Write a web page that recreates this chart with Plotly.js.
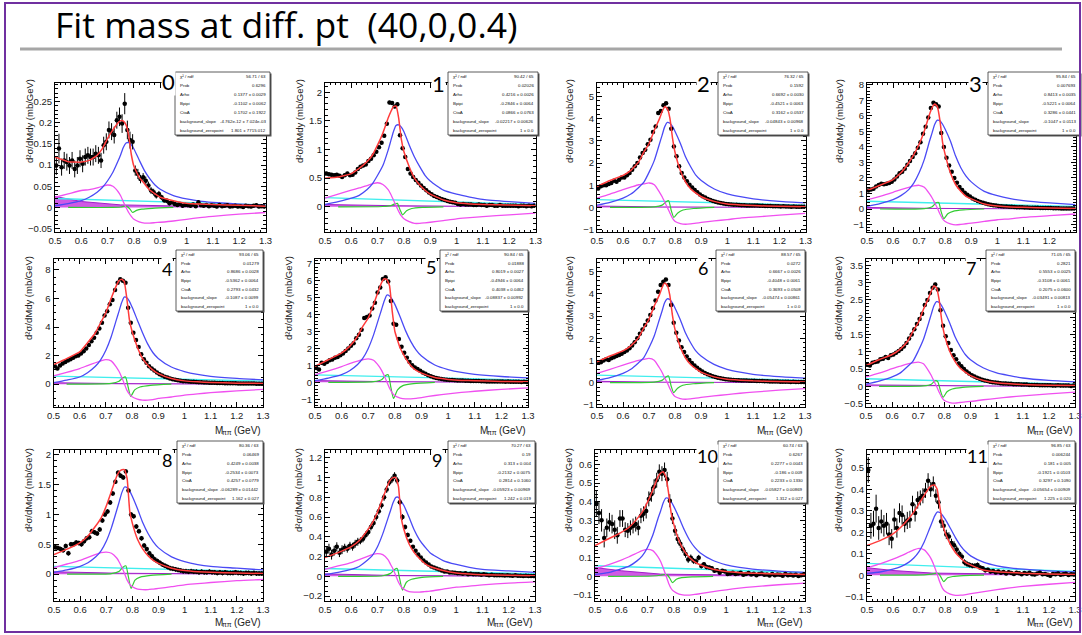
<!DOCTYPE html>
<html><head><meta charset="utf-8">
<script src="https://cdn.plot.ly/plotly-3.0.1.min.js"></script>
<style>html,body{margin:0;padding:0;background:#fff;}#chart{width:1082px;height:635px;}</style>
</head><body><div id="chart"></div>
<script>
const SLIDE_TITLE = 'Fit mass at diff. pt\u00a0\u00a0(40,0,0.4)';
const Y_TITLE = 'd²σ/dMdy (mb/GeV)';
const X_TITLE_PARTS = ['M','ππ','(GeV)'];
const PANEL_LABELS = ['0','1','2','3','4','5','6','7','8','9','10','11'];
const STAT_LABELS = ['χ² / ndf','Prob','Arho','Bpipi','CtoA','background_slope','background_zeropoint'];
const STATS_0 = ['56.71 / 63','0.6296','0.1377 ± 0.0029','-0.1102 ± 0.0062','0.1702 ± 0.1922','-4.762e-12 ± 7.024e-03','1.801 ± 7715.012'];
const STATS_1 = ['90.42 / 65','0.02026','0.4216 ± 0.0026','-0.2846 ± 0.0064','0.0866 ± 0.0763','-0.02217 ± 0.00626','1 ± 0.0'];
const STATS_2 = ['76.32 / 65','0.1592','0.6692 ± 0.0030','-0.4521 ± 0.0063','0.3162 ± 0.0537','-0.04843 ± 0.00968','1 ± 0.0'];
const STATS_3 = ['95.84 / 65','0.007693','0.8413 ± 0.0035','-0.5221 ± 0.0064','0.3286 ± 0.0441','-0.1047 ± 0.0113','1 ± 0.0'];
const STATS_4 = ['93.06 / 65','0.01279','0.8686 ± 0.0028','-0.5362 ± 0.0064','0.2793 ± 0.0432','-0.1087 ± 0.0099','1 ± 0.0'];
const STATS_5 = ['90.84 / 65','0.01888','0.8019 ± 0.0027','-0.4946 ± 0.0064','0.4038 ± 0.0462','-0.08837 ± 0.00992','1 ± 0.0'];
const STATS_6 = ['88.57 / 65','0.0272','0.6667 ± 0.0026','-0.4048 ± 0.0061','0.3693 ± 0.0508','-0.05474 ± 0.00861','1 ± 0.0'];
const STATS_7 = ['71.05 / 65','0.2821','0.5553 ± 0.0025','-0.3108 ± 0.0061','0.2075 ± 0.0600','-0.03491 ± 0.00813','1 ± 0.0'];
const STATS_8 = ['80.36 / 63','0.06469','0.4249 ± 0.0038','-0.2534 ± 0.0073','0.4257 ± 0.0779','-0.06289 ± 0.01442','1.162 ± 0.027'];
const STATS_9 = ['70.27 / 63','0.19','0.313 ± 0.004','-0.2132 ± 0.0075','0.2814 ± 0.1060','-0.05923 ± 0.00969','1.242 ± 0.019'];
const STATS_10 = ['60.74 / 63','0.6267','0.2277 ± 0.0043','-0.186 ± 0.009','0.2233 ± 0.1330','-0.05827 ± 0.00869','1.312 ± 0.027'];
const STATS_11 = ['96.85 / 63','0.006244','0.181 ± 0.005','-0.1921 ± 0.0103','0.3297 ± 0.1090','-0.05654 ± 0.00909','1.225 ± 0.020'];

const MASS_BINS = [0.505,0.515,0.525,0.535,0.545,0.555,0.565,0.575,0.585,0.595,
 0.605,0.615,0.625,0.635,0.645,0.655,0.665,0.675,0.685,0.695,
 0.705,0.715,0.725,0.735,0.745,0.755,0.765,0.775,0.785,0.795,
 0.805,0.815,0.825,0.835,0.845,0.855,0.865,0.875,0.885,0.895,
 0.905,0.915,0.925,0.935,0.945,0.955,0.965,0.975,0.985,0.995,
 1.005,1.015,1.025,1.035,1.045,1.055,1.065,1.075,1.085,1.095,
 1.105,1.115,1.125,1.135,1.145,1.155,1.165,1.175,1.185,1.195,
 1.205,1.215,1.225,1.235,1.245,1.255,1.265,1.275,1.285,1.295];
const CURVE_X = [0.50,0.55,0.60,0.63,0.66,0.68,0.70,0.72,0.74,0.75,0.76,0.77,0.78,0.79,0.80,0.82,0.84,0.86,0.88,0.90,0.95,1.00,1.05,1.10,1.20,1.30];
const GREEN_X = [0.55,0.72,0.75,0.765,0.775,0.785,0.795,0.81,0.83,0.87,0.95];
const BKG_X = [0.5,0.6,0.75,1.0,1.3];
const LINE_X = [0.5,1.3];

// ---------- panel 0 ----------
const DATA_0 = [0.099,0.139,0.095,0.111,0.107,0.099,0.111,0.091,0.099,0.115,
 0.103,0.119,0.123,0.119,0.119,0.127,0.123,0.111,0.147,0.155,
 0.183,0.179,0.171,0.206,0.214,0.198,0.245,0.183,0.159,0.155,
 0.087,0.079,0.067,0.071,0.063,0.052,0.040,0.036,0.028,0.032,
 0.024,0.017,0.016,0.010,0.012,0.008,0.006,0.008,0.004,0.006,
 0.005,0.004,0.007,0.003,0.012,0.005,0.004,0.006,0.003,0.005,
 0.004,0.002,0.006,0.003,0.004,0.005,0.002,0.003,0.004,0.002,
 0.003,0.001,0.004,0.003,0.002,0.004,0.005,0.002,0.003,0.002];
const ERR_0 = [0.022,0.035,0.02,0.02,0.02,0.02,0.02,0.02,0.02,0.02,
 0.02,0.02,0.02,0.02,0.02,0.02,0.02,0.018,0.02,0.02,
 0.02,0.02,0.02,0.02,0.022,0.022,0.025,0.022,0.02,0.018,
 0.012,0.012,0.01,0.01,0.01,0.009,0.008,0.008,0.007,0.007,
 0.006,0.006,0.006,0.005,0.005,0.005,0.005,0.005,0.004,0.004,
 0.004,0.004,0.004,0.004,0.005,0.004,0.004,0.004,0.004,0.004,
 0.004,0.004,0.004,0.004,0.004,0.004,0.004,0.004,0.004,0.004,
 0.004,0.004,0.004,0.004,0.004,0.004,0.004,0.004,0.004,0.004];
const RED_0 = [0.119,0.108,0.107,0.111,0.123,0.139,0.163,0.183,0.2,0.205,0.204,0.195,0.17,0.125,0.097,0.071,0.056,0.041,0.032,0.024,0.016,0.01,0.008,0.007,0.005,0.003];
const BLUE_0 = [0.004,0.009,0.016,0.024,0.036,0.047,0.063,0.083,0.11,0.125,0.142,0.152,0.153,0.148,0.138,0.112,0.087,0.068,0.053,0.043,0.028,0.02,0.015,0.012,0.008,0.006];
const MAG_0 = [0.024,0.032,0.04,0.042,0.046,0.05,0.053,0.05,0.037,0.027,0.013,0.0,-0.012,-0.021,-0.028,-0.034,-0.037,-0.037,-0.036,-0.035,-0.032,-0.028,-0.024,-0.021,-0.016,-0.012];
const CYAN_0 = [0.021,0.006];
const GREEN_0 = [0,0,0.001,0.003,0.002,-0.004,-0.012,-0.007,-0.004,-0.002,0];
const PURP_0 = [0.026,0.014,0.006,0.003,0.002];

// ---------- panel 1 ----------
const DATA_1 = [0.58,0.57,0.56,0.55,0.56,0.54,0.52,0.55,0.58,0.55,
 0.56,0.60,0.66,0.70,0.72,0.74,0.80,0.84,0.90,0.96,
 1.04,1.12,1.24,1.45,1.82,1.81,1.75,1.79,1.25,1.02,
 0.87,0.66,0.58,0.52,0.47,0.42,0.37,0.33,0.29,0.25,
 0.22,0.19,0.17,0.15,0.13,0.12,0.10,0.09,0.08,0.07,
 0.05,0.04,0.05,0.04,0.04,0.04,0.03,0.03,0.04,0.03,
 0.03,0.02,0.03,0.03,0.02,0.02,0.03,0.02,0.02,0.02,
 0.02,0.02,0.02,0.01,0.02,0.02,0.01,0.02,0.01,0.02];
const RED_1 = [0.5,0.52,0.58,0.67,0.79,0.9,1.08,1.29,1.55,1.66,1.75,1.76,1.55,1.18,0.96,0.7,0.5,0.38,0.29,0.22,0.12,0.07,0.05,0.04,0.03,0.02];
const BLUE_1 = [0.04,0.09,0.15,0.2,0.3,0.4,0.55,0.72,0.99,1.15,1.31,1.42,1.43,1.39,1.31,1.08,0.87,0.7,0.55,0.45,0.29,0.22,0.17,0.13,0.09,0.06];
const MAG_1 = [0.15,0.22,0.29,0.33,0.37,0.4,0.42,0.39,0.3,0.22,0.12,0.02,-0.08,-0.16,-0.21,-0.26,-0.29,-0.29,-0.28,-0.27,-0.24,-0.21,-0.19,-0.17,-0.14,-0.11];
const CYAN_1 = [0.16,0.04];
const GREEN_1 = [0,0.005,0.02,0.05,0.06,-0.05,-0.14,-0.07,-0.03,-0.01,0];
const PURP_1 = [0.04,0.03,0.02,0.01,0.005];

// ---------- panel 2 ----------
const DATA_2 = [0.85,0.95,1.0,1.0,1.05,1.1,1.2,1.15,1.25,1.35,
 1.35,1.45,1.55,1.7,1.85,2.0,2.25,2.45,2.6,2.85,
 3.05,3.4,3.65,4.25,4.35,4.6,4.7,4.45,3.55,2.75,
 2.3,1.85,1.55,1.35,1.18,1.02,0.9,0.78,0.68,0.58,
 0.5,0.44,0.38,0.33,0.29,0.25,0.22,0.2,0.17,0.15,
 0.14,0.13,0.12,0.12,0.11,0.1,0.1,0.09,0.09,0.08,
 0.08,0.08,0.07,0.07,0.06,0.06,0.06,0.05,0.05,0.05,
 0.04,0.05,0.04,0.04,0.03,0.04,0.03,0.03,0.03,0.03];
const RED_2 = [0.94,1.21,1.44,1.67,2.05,2.5,2.88,3.48,4.0,4.32,4.55,4.45,4.0,3.1,2.45,1.65,1.14,0.83,0.64,0.48,0.27,0.15,0.11,0.08,0.05,0.03];
const BLUE_2 = [0.1,0.23,0.42,0.6,0.9,1.14,1.59,2.12,2.88,3.26,3.64,3.83,3.79,3.64,3.41,2.88,2.27,1.82,1.44,1.21,0.83,0.61,0.48,0.38,0.27,0.2];
const MAG_2 = [0.42,0.6,0.8,0.91,1.02,1.06,1.1,1.02,0.68,0.48,0.23,0,-0.26,-0.5,-0.64,-0.73,-0.76,-0.74,-0.71,-0.68,-0.61,-0.55,-0.48,-0.44,-0.35,-0.27];
const CYAN_2 = [0.35,0.1];
const GREEN_2 = [0,0.02,0.1,0.25,0.3,-0.15,-0.45,-0.25,-0.12,-0.05,0];
const PURP_2 = [0.06,0.04,0.02,0.01,0.005];

// ---------- panel 3 ----------
const DATA_3 = [1.2,1.25,1.3,1.45,1.55,1.62,1.6,1.62,1.68,1.75,
 1.9,2.1,2.3,2.4,2.6,2.85,3.1,3.35,3.6,3.95,
 4.3,4.85,5.3,5.9,6.5,6.85,6.75,6.6,4.9,4.0,
 3.3,2.8,2.4,2.0,1.7,1.42,1.22,1.05,0.92,0.8,
 0.68,0.6,0.52,0.46,0.4,0.35,0.31,0.28,0.24,0.22,
 0.2,0.18,0.17,0.16,0.15,0.14,0.13,0.12,0.12,0.11,
 0.1,0.1,0.09,0.09,0.08,0.08,0.07,0.07,0.07,0.06,
 0.06,0.05,0.05,0.05,0.04,0.04,0.04,0.04,0.03,0.03];
const RED_3 = [1.19,1.53,1.9,2.33,2.98,3.52,4.17,5.03,6.11,6.54,6.76,6.6,5.7,4.3,3.5,2.33,1.58,1.14,0.82,0.65,0.32,0.19,0.13,0.11,0.06,0.04];
const BLUE_3 = [0.17,0.35,0.6,0.86,1.25,1.68,2.33,3.2,4.38,4.92,5.46,5.72,5.68,5.46,5.14,4.38,3.41,2.66,2.12,1.75,1.14,0.86,0.67,0.54,0.39,0.28];
const MAG_3 = [0.6,0.82,1.08,1.25,1.4,1.49,1.53,1.4,0.97,0.71,0.39,0.06,-0.32,-0.63,-0.8,-0.95,-1.02,-0.99,-0.95,-0.91,-0.8,-0.69,-0.63,-0.54,-0.43,-0.32];
const CYAN_3 = [0.5,0.17];
const GREEN_3 = [0,0.03,0.15,0.4,0.42,-0.2,-0.62,-0.3,-0.15,-0.06,0];
const PURP_3 = [0.1,0.07,0.04,0.02,0.01];

// ---------- panel 4 ----------
const DATA_4 = [1.25,1.1,1.3,1.45,1.55,1.65,1.75,1.85,1.95,2.0,
 2.15,2.3,2.5,2.75,3.0,3.25,3.6,3.9,4.3,4.8,
 5.1,5.6,5.9,6.6,7.1,7.35,7.25,7.1,5.35,4.3,
 3.6,3.1,2.6,2.1,1.75,1.5,1.25,1.1,0.95,0.82,
 0.7,0.6,0.52,0.46,0.4,0.35,0.3,0.27,0.24,0.21,
 0.2,0.18,0.17,0.16,0.15,0.13,0.13,0.12,0.11,0.1,
 0.1,0.09,0.08,0.08,0.08,0.07,0.07,0.06,0.06,0.06,
 0.05,0.05,0.05,0.05,0.04,0.04,0.04,0.03,0.03,0.03];
const RED_4 = [1.37,1.79,2.26,2.9,3.6,4.3,5.0,6.0,6.9,7.25,7.35,7.2,6.0,4.5,3.7,2.6,1.8,1.33,0.98,0.74,0.4,0.23,0.16,0.12,0.07,0.05];
const BLUE_4 = [0.1,0.28,0.5,0.8,1.25,1.7,2.37,3.3,4.5,5.1,5.7,6.1,6.05,5.8,5.4,4.5,3.6,2.8,2.2,1.8,1.2,0.88,0.68,0.55,0.4,0.3];
const MAG_4 = [0.58,0.82,1.09,1.3,1.5,1.62,1.72,1.63,1.2,0.9,0.5,0.05,-0.42,-0.7,-0.88,-1.05,-1.12,-1.12,-1.08,-1.0,-0.9,-0.77,-0.68,-0.6,-0.47,-0.37];
const CYAN_4 = [0.56,0.21];
const GREEN_4 = [0,0.05,0.2,0.45,0.5,-0.2,-0.85,-0.4,-0.2,-0.08,0];
const PURP_4 = [0.1,0.07,0.04,0.02,0.01];

// ---------- panel 5 ----------
const DATA_5 = [0.85,0.75,1.15,1.1,1.2,1.3,1.35,1.45,1.5,1.6,
 1.7,1.85,2.0,2.15,2.3,2.6,2.8,3.1,3.8,3.85,
 3.95,4.35,4.7,5.3,5.6,6.1,6.2,5.95,4.8,3.45,
 3.4,2.55,2.1,1.75,1.45,1.2,1.0,0.88,0.78,0.68,
 0.58,0.5,0.42,0.36,0.3,0.26,0.22,0.2,0.17,0.15,
 0.14,0.13,0.12,0.11,0.1,0.1,0.09,0.09,0.08,0.07,
 0.07,0.07,0.06,0.06,0.05,0.05,0.05,0.05,0.04,0.04,
 0.04,0.03,0.04,0.03,0.03,0.03,0.03,0.02,0.03,0.02];
const RED_5 = [0.94,1.33,1.73,2.12,2.72,3.31,3.8,4.6,5.48,5.88,6.11,6.07,5.7,4.2,3.0,2.02,1.43,0.98,0.7,0.54,0.28,0.17,0.11,0.09,0.05,0.03];
const BLUE_5 = [0.1,0.25,0.45,0.68,1.05,1.42,2.0,2.8,3.8,4.3,4.8,5.15,5.1,4.9,4.6,3.85,3.05,2.4,1.9,1.55,1.02,0.75,0.58,0.47,0.34,0.26];
const MAG_5 = [0.45,0.68,0.93,1.1,1.25,1.33,1.38,1.3,0.95,0.7,0.38,0.02,-0.35,-0.62,-0.8,-0.93,-0.98,-0.98,-0.95,-0.9,-0.78,-0.68,-0.6,-0.53,-0.42,-0.33];
const CYAN_5 = [0.44,0.13];
const GREEN_5 = [0,0.04,0.15,0.4,0.45,-0.3,-0.95,-0.45,-0.2,-0.08,0];
const PURP_5 = [0.1,0.07,0.04,0.02,0.01];

// ---------- panel 6 ----------
const DATA_6 = [0.9,0.92,1.0,1.05,1.02,1.1,1.15,1.2,1.25,1.3,
 1.38,1.45,1.55,1.68,1.82,2.0,2.2,2.4,2.6,2.8,
 3.05,3.35,3.7,4.1,4.4,4.55,4.65,4.4,3.5,2.7,
 2.25,1.9,1.6,1.38,1.18,1.02,0.88,0.77,0.67,0.58,
 0.5,0.43,0.38,0.33,0.29,0.25,0.22,0.2,0.17,0.15,
 0.14,0.13,0.12,0.11,0.11,0.1,0.1,0.09,0.08,0.08,
 0.08,0.07,0.07,0.07,0.06,0.06,0.05,0.05,0.05,0.05,
 0.04,0.04,0.04,0.04,0.03,0.04,0.03,0.03,0.03,0.03];
const RED_6 = [0.94,1.2,1.43,1.66,2.03,2.47,2.86,3.45,3.96,4.28,4.5,4.4,3.95,3.05,2.4,1.62,1.12,0.82,0.63,0.47,0.26,0.15,0.11,0.08,0.05,0.03];
const BLUE_6 = [0.1,0.23,0.42,0.6,0.9,1.13,1.57,2.1,2.85,3.22,3.6,3.78,3.75,3.6,3.37,2.85,2.25,1.8,1.43,1.2,0.82,0.6,0.47,0.37,0.27,0.2];
const MAG_6 = [0.42,0.6,0.79,0.9,1.0,1.05,1.09,1.01,0.67,0.47,0.22,0,-0.26,-0.49,-0.63,-0.72,-0.75,-0.73,-0.7,-0.67,-0.6,-0.54,-0.48,-0.43,-0.34,-0.27];
const CYAN_6 = [0.34,0.1];
const GREEN_6 = [0,0.02,0.1,0.25,0.3,-0.15,-0.45,-0.25,-0.12,-0.05,0];
const PURP_6 = [0.06,0.04,0.02,0.01,0.005];

// ---------- panel 7 ----------
const DATA_7 = [0.62,0.6,0.68,0.7,0.72,0.78,0.8,0.85,0.82,0.9,
 0.92,0.97,1.02,1.08,1.15,1.25,1.38,1.5,1.65,1.8,
 1.95,2.1,2.35,2.5,2.7,2.85,2.95,2.8,2.2,1.75,
 1.45,1.25,1.05,0.9,0.78,0.66,0.58,0.5,0.43,0.37,
 0.32,0.28,0.25,0.22,0.19,0.17,0.15,0.13,0.12,0.11,
 0.1,0.09,0.08,0.08,0.07,0.07,0.06,0.06,0.06,0.05,
 0.05,0.05,0.04,0.04,0.04,0.04,0.03,0.03,0.03,0.03,
 0.03,0.02,0.02,0.03,0.02,0.02,0.02,0.02,0.01,0.02];
const RED_7 = [0.6,0.77,0.92,1.07,1.31,1.6,1.84,2.23,2.56,2.76,2.91,2.85,2.5,1.9,1.5,1.02,0.73,0.53,0.41,0.31,0.17,0.1,0.07,0.05,0.03,0.02];
const BLUE_7 = [0.06,0.15,0.27,0.38,0.58,0.73,1.02,1.36,1.84,2.09,2.33,2.45,2.43,2.33,2.18,1.84,1.45,1.16,0.92,0.77,0.53,0.39,0.31,0.24,0.17,0.13];
const MAG_7 = [0.27,0.38,0.51,0.58,0.65,0.68,0.7,0.65,0.44,0.31,0.15,0,-0.17,-0.32,-0.41,-0.47,-0.49,-0.47,-0.45,-0.44,-0.39,-0.35,-0.31,-0.28,-0.22,-0.17];
const CYAN_7 = [0.22,0.06];
const GREEN_7 = [0,0.01,0.06,0.16,0.13,-0.13,-0.32,-0.16,-0.08,-0.03,0];
const PURP_7 = [0.04,0.03,0.015,0.008,0.004];

// ---------- panel 8 ----------
const DATA_8 = [0.45,0.44,0.42,0.4,0.47,0.35,0.5,0.5,0.53,0.52,
 0.5,0.55,0.6,0.62,0.72,0.7,0.68,0.75,0.9,1.0,
 1.05,1.2,1.35,1.55,1.7,1.65,1.62,1.72,1.4,1.0,
 0.97,0.8,0.72,0.6,0.48,0.42,0.35,0.3,0.25,0.22,
 0.19,0.16,0.14,0.12,0.1,0.09,0.08,0.07,0.06,0.05,
 0.05,0.04,0.05,0.04,0.04,0.03,0.04,0.03,0.03,0.04,
 0.03,0.03,0.02,0.03,0.02,0.03,0.02,0.02,0.02,0.03,
 0.02,0.02,0.01,0.02,0.02,0.01,0.02,0.01,0.01,0.01];
const RED_8 = [0.33,0.42,0.53,0.64,0.81,0.94,1.14,1.39,1.64,1.72,1.75,1.75,1.6,1.05,0.85,0.58,0.42,0.31,0.23,0.18,0.1,0.06,0.04,0.03,0.02,0.01];
const BLUE_8 = [0.03,0.07,0.13,0.19,0.29,0.39,0.55,0.78,1.07,1.22,1.37,1.46,1.45,1.39,1.3,1.09,0.86,0.68,0.54,0.44,0.29,0.21,0.16,0.13,0.1,0.07];
const MAG_8 = [0.11,0.17,0.23,0.28,0.33,0.36,0.37,0.35,0.27,0.2,0.11,0.01,-0.1,-0.17,-0.21,-0.25,-0.26,-0.26,-0.25,-0.24,-0.21,-0.18,-0.16,-0.14,-0.11,-0.09];
const CYAN_8 = [0.13,0.04];
const GREEN_8 = [0,0.01,0.05,0.12,0.14,-0.05,-0.24,-0.1,-0.05,-0.02,0];
const PURP_8 = [0.04,0.03,0.015,0.008,0.004];

// ---------- panel 9 ----------
const DATA_9 = [0.25,0.28,0.22,0.26,0.3,0.24,0.27,0.29,0.28,0.31,
 0.3,0.33,0.35,0.36,0.38,0.42,0.45,0.5,0.54,0.6,
 0.66,0.72,0.8,0.88,0.95,0.98,1.02,0.97,0.75,0.6,
 0.5,0.42,0.36,0.3,0.26,0.22,0.19,0.16,0.14,0.12,
 0.1,0.09,0.08,0.07,0.06,0.05,0.05,0.04,0.04,0.035,
 0.03,0.03,0.025,0.03,0.02,0.025,0.02,0.02,0.02,0.015,
 0.02,0.015,0.01,0.015,0.01,0.01,0.012,0.01,0.008,0.01,
 0.008,0.006,0.01,0.005,0.006,0.004,0.006,0.004,0.003,0.004];
const ERR_9 = [0.05,0.05,0.05,0.05,0.045,0.045,0.045,0.04,0.04,0.04,
 0.04,0.04,0.04,0.035,0.035,0.035,0.035,0.035,0.035,0.035,
 0.035,0.035,0.035,0.035,0.035,0.035,0.035,0.035,0.03,0.03,
 0.025,0.022,0.02,0.018,0.016,0.015,0.014,0.013,0.012,0.011,
 0.01,0.01,0.01,0.009,0.009,0.008,0.008,0.008,0.007,0.007,
 0.006,0.006,0.006,0.006,0.006,0.006,0.006,0.006,0.006,0.006,
 0.006,0.006,0.006,0.006,0.006,0.006,0.006,0.006,0.006,0.006,
 0.006,0.006,0.006,0.006,0.006,0.006,0.006,0.006,0.006,0.006];
const RED_9 = [0.19,0.24,0.3,0.36,0.46,0.54,0.65,0.79,0.93,0.98,1.0,1.0,0.91,0.6,0.48,0.33,0.24,0.18,0.13,0.1,0.06,0.034,0.023,0.017,0.011,0.006];
const BLUE_9 = [0.017,0.04,0.07,0.1,0.16,0.21,0.3,0.43,0.59,0.67,0.75,0.8,0.8,0.76,0.72,0.6,0.47,0.37,0.3,0.24,0.16,0.12,0.09,0.07,0.055,0.04];
const MAG_9 = [0.07,0.105,0.14,0.17,0.2,0.22,0.23,0.22,0.17,0.12,0.07,0.006,-0.06,-0.105,-0.13,-0.155,-0.16,-0.16,-0.155,-0.15,-0.13,-0.11,-0.1,-0.087,-0.068,-0.056];
const CYAN_9 = [0.08,0.025];
const GREEN_9 = [0,0.006,0.03,0.07,0.08,-0.03,-0.14,-0.06,-0.03,-0.01,0];
const PURP_9 = [0.025,0.017,0.009,0.005,0.002];

// ---------- panel 10 ----------
const DATA_10 = [0.39,0.34,0.30,0.205,0.26,0.29,0.28,0.25,0.22,0.31,
 0.31,0.25,0.245,0.26,0.27,0.28,0.26,0.325,0.335,0.35,
 0.415,0.44,0.48,0.515,0.56,0.55,0.57,0.52,0.405,0.31,
 0.245,0.20,0.175,0.145,0.12,0.09,0.10,0.083,0.08,0.10,
 0.055,0.065,0.05,0.047,0.044,0.03,0.033,0.02,0.03,0.026,
 0.012,0.015,0.02,0.012,0.015,0.02,0.008,0.012,0.018,0.01,
 0.014,0.006,0.012,0.016,0.008,0.01,0.004,0.012,0.006,0.01,
 0.008,0.003,0.012,0.006,0.009,0.004,0.008,0.002,0.006,0.01];
const ERR_10 = [0.07,0.06,0.06,0.05,0.05,0.05,0.05,0.05,0.045,0.045,
 0.045,0.04,0.04,0.04,0.04,0.04,0.04,0.04,0.04,0.04,
 0.04,0.04,0.04,0.04,0.04,0.04,0.04,0.04,0.035,0.03,
 0.028,0.025,0.022,0.02,0.02,0.018,0.017,0.016,0.015,0.015,
 0.013,0.012,0.012,0.011,0.011,0.01,0.01,0.01,0.009,0.009,
 0.008,0.008,0.008,0.008,0.008,0.008,0.007,0.007,0.007,0.007,
 0.007,0.007,0.007,0.007,0.007,0.007,0.006,0.006,0.006,0.006,
 0.006,0.006,0.006,0.006,0.006,0.006,0.006,0.006,0.006,0.006];
const RED_10 = [0.165,0.2,0.236,0.263,0.308,0.344,0.398,0.461,0.533,0.553,0.56,0.535,0.45,0.34,0.28,0.191,0.137,0.101,0.078,0.062,0.038,0.026,0.02,0.017,0.012,0.01];
const BLUE_10 = [0.01,0.02,0.04,0.055,0.083,0.11,0.155,0.22,0.31,0.35,0.395,0.42,0.418,0.4,0.375,0.315,0.25,0.195,0.155,0.127,0.085,0.062,0.048,0.039,0.028,0.021];
const MAG_10 = [0.04,0.062,0.087,0.105,0.125,0.138,0.145,0.138,0.105,0.08,0.045,0.005,-0.035,-0.065,-0.08,-0.095,-0.1,-0.1,-0.097,-0.093,-0.082,-0.072,-0.063,-0.056,-0.045,-0.036];
const CYAN_10 = [0.057,0.02];
const GREEN_10 = [0,0.002,0.006,0.01,0.008,-0.01,-0.034,-0.015,-0.007,-0.003,0];
const PURP_10 = [0.047,0.03,0.012,0.006,0.002];

// ---------- panel 11 ----------
const DATA_11 = [0.49,0.23,0.24,0.31,0.22,0.25,0.23,0.24,0.19,0.17,
 0.26,0.22,0.29,0.28,0.24,0.255,0.26,0.33,0.29,0.35,
 0.36,0.37,0.395,0.44,0.40,0.425,0.37,0.34,0.25,0.23,
 0.19,0.18,0.15,0.14,0.12,0.10,0.086,0.06,0.052,0.048,
 0.044,0.044,0.048,0.036,0.033,0.023,0.026,0.017,0.02,0.013,
 0.017,0.012,0.015,0.008,0.014,0.01,0.006,0.012,0.009,0.004,
 0.01,0.007,0.011,0.005,0.003,0.008,0.012,0.004,0.006,0.002,
 -0.003,0.006,0.004,0.008,0.002,0.005,0.007,0.001,0.004,0.003];
const ERR_11 = [0.06,0.06,0.06,0.065,0.055,0.055,0.05,0.05,0.05,0.045,
 0.05,0.045,0.045,0.045,0.04,0.04,0.04,0.04,0.04,0.04,
 0.035,0.035,0.035,0.035,0.035,0.035,0.03,0.03,0.03,0.025,
 0.022,0.02,0.02,0.018,0.017,0.015,0.015,0.014,0.013,0.012,
 0.012,0.011,0.011,0.01,0.01,0.01,0.009,0.009,0.009,0.008,
 0.008,0.008,0.008,0.008,0.008,0.008,0.008,0.008,0.008,0.008,
 0.008,0.008,0.008,0.008,0.008,0.008,0.008,0.008,0.008,0.008,
 0.008,0.008,0.008,0.008,0.008,0.008,0.008,0.008,0.008,0.008];
const RED_11 = [0.138,0.161,0.192,0.223,0.263,0.294,0.333,0.372,0.408,0.418,0.42,0.4,0.32,0.245,0.2,0.145,0.106,0.08,0.059,0.047,0.023,0.016,0.013,0.009,0.006,0.003];
const BLUE_11 = [0.008,0.015,0.028,0.04,0.06,0.08,0.11,0.155,0.215,0.245,0.275,0.294,0.292,0.28,0.262,0.22,0.175,0.137,0.109,0.089,0.06,0.044,0.034,0.028,0.02,0.015];
const MAG_11 = [0.035,0.053,0.075,0.09,0.107,0.118,0.125,0.118,0.09,0.068,0.038,0.004,-0.032,-0.06,-0.075,-0.088,-0.094,-0.093,-0.09,-0.086,-0.076,-0.067,-0.059,-0.052,-0.042,-0.033];
const CYAN_11 = [0.055,0.017];
const GREEN_11 = [0,0.002,0.005,0.01,0.008,-0.01,-0.03,-0.012,-0.006,-0.002,0];
const PURP_11 = [0.035,0.022,0.01,0.005,0.002];

const ERR_CONST = [null,0.03,0.07,0.09,0.1,0.09,0.07,0.05,0.04,null,null,null];

// ----- assemble -----
const PANELS = [
 {d:DATA_0,e:ERR_0,r:RED_0,b:BLUE_0,m:MAG_0,c:CYAN_0,g:GREEN_0,p:PURP_0,s:STATS_0},
 {d:DATA_1,r:RED_1,b:BLUE_1,m:MAG_1,c:CYAN_1,g:GREEN_1,p:PURP_1,s:STATS_1},
 {d:DATA_2,r:RED_2,b:BLUE_2,m:MAG_2,c:CYAN_2,g:GREEN_2,p:PURP_2,s:STATS_2},
 {d:DATA_3,r:RED_3,b:BLUE_3,m:MAG_3,c:CYAN_3,g:GREEN_3,p:PURP_3,s:STATS_3},
 {d:DATA_4,r:RED_4,b:BLUE_4,m:MAG_4,c:CYAN_4,g:GREEN_4,p:PURP_4,s:STATS_4},
 {d:DATA_5,r:RED_5,b:BLUE_5,m:MAG_5,c:CYAN_5,g:GREEN_5,p:PURP_5,s:STATS_5},
 {d:DATA_6,r:RED_6,b:BLUE_6,m:MAG_6,c:CYAN_6,g:GREEN_6,p:PURP_6,s:STATS_6},
 {d:DATA_7,r:RED_7,b:BLUE_7,m:MAG_7,c:CYAN_7,g:GREEN_7,p:PURP_7,s:STATS_7},
 {d:DATA_8,r:RED_8,b:BLUE_8,m:MAG_8,c:CYAN_8,g:GREEN_8,p:PURP_8,s:STATS_8},
 {d:DATA_9,e:ERR_9,r:RED_9,b:BLUE_9,m:MAG_9,c:CYAN_9,g:GREEN_9,p:PURP_9,s:STATS_9},
 {d:DATA_10,e:ERR_10,r:RED_10,b:BLUE_10,m:MAG_10,c:CYAN_10,g:GREEN_10,p:PURP_10,s:STATS_10},
 {d:DATA_11,e:ERR_11,r:RED_11,b:BLUE_11,m:MAG_11,c:CYAN_11,g:GREEN_11,p:PURP_11,s:STATS_11}
];
const GEOM = [
 {f:[55,82.5,265.5,232],  bx:[175,72,270,135],  n:[168,81,22],  yt:[29,121],  xt:null, yr:[-0.058,0.295], dt:0.05, md:0.01},
 {f:[325,82.5,535.5,232], bx:[448,72,538,135],  n:[438,83,22],  yt:[299,121], xt:null, yr:[-0.44,2.17], dt:0.5, md:0.1},
 {f:[597,82.5,805.5,232], bx:[718,72,808,135],  n:[703,83,22],  yt:[569,121], xt:null, yr:[-1.11,5.63], dt:1, md:0.2},
 {f:[867,82.5,1075.5,232],bx:[988,72,1080,135], n:[975,83,22],  yt:[839,121], xt:null, yr:[-1.48,8.15], dt:1, md:0.2},
 {f:[53.5,258.5,263,407], bx:[176,250,263,311], n:[167,269,18], yt:[28,298],  xt:430, yr:[-1.6,8.8], dt:2, md:0.5},
 {f:[315,258.5,528,407],  bx:[440,250,528,311], n:[431,267.5,18],yt:[288,298], xt:430, yr:[-1.46,7.31], dt:1, md:0.2},
 {f:[597,258.5,805,407],  bx:[716,250,805,311], n:[703,268,18], yt:[569,298], xt:430, yr:[-1.1,5.6], dt:1, md:0.2},
 {f:[866,258.5,1075,407], bx:[986,250,1075,311],n:[971,268,18], yt:[838,298], xt:430, yr:[-0.6,3.7], dt:0.5, md:0.1},
 {f:[54,450,263,601],     bx:[177,441,263,503], n:[167,460,18], yt:[28,490],  xt:622, yr:[-0.45,2.08], dt:0.5, md:0.1},
 {f:[325,450,535,601],    bx:[448,441,535,503], n:[437,460,18], yt:[298,490], xt:622, yr:[-0.25,1.28], dt:0.2, md:0.05},
 {f:[595,450,805,601],    bx:[718,441,807,503], n:[707,456,18], yt:[568,490], xt:622, yr:[-0.132,0.677], dt:0.1, md:0.02},
 {f:[867,450,1075,601],   bx:[988,441,1075,503],n:[977,456,18], yt:[838,490], xt:622, yr:[-0.12,0.583], dt:0.1, md:0.02}
];

const W=1082,H=635;
const PX = v=>v/W, PY = v=>1-v/H;
const traces=[];
const layout={width:W,height:H,margin:{l:0,r:0,t:0,b:0},paper_bgcolor:'#fff',plot_bgcolor:'#fff',showlegend:false,shapes:[],annotations:[]};
const TICKFONT={family:'Liberation Sans, Arial, sans-serif',size:9.5,color:'#222'};
const STATFONT={family:'Liberation Sans, Arial',size:4.4,color:'#111'};
const LABFONT={family:'Liberation Sans, Arial',size:10,color:'#222'};

PANELS.forEach((P,k)=>{
  const G=GEOM[k];
  const sfx = k? String(k+1):'';
  const xa='x'+sfx, ya='y'+sfx;
  layout['xaxis'+sfx]={domain:[PX(G.f[0]),PX(G.f[2])],anchor:ya,range:[0.5,1.3],showline:true,linecolor:'#000',linewidth:1,mirror:'allticks',
    ticks:'inside',ticklen:5,tickwidth:1,tickcolor:'#000',tick0:0.5,dtick:0.1,minor:{ticks:'inside',ticklen:2.5,dtick:0.02,tickcolor:'#000'},
    showgrid:false,zeroline:false,tickfont:TICKFONT};
  layout['yaxis'+sfx]={domain:[PY(G.f[3]),PY(G.f[1])],anchor:xa,range:G.yr,showline:true,linecolor:'#000',linewidth:1,mirror:'allticks',
    ticks:'inside',ticklen:5,tickwidth:1,tickcolor:'#000',tick0:0,dtick:G.dt,minor:{ticks:'inside',ticklen:2.5,dtick:G.md,tickcolor:'#000'},
    showgrid:false,zeroline:false,tickfont:TICKFONT};
  const base={xaxis:xa,yaxis:ya,hoverinfo:'skip'};
  traces.push(Object.assign({x:BKG_X,y:P.p,mode:'lines',fill:'tozeroy',fillcolor:'rgba(200,60,225,0.85)',line:{color:'#a020c8',width:1}},base));
  traces.push(Object.assign({x:LINE_X,y:P.c,mode:'lines',line:{color:'#40eeee',width:1.4}},base));
  traces.push(Object.assign({x:GREEN_X,y:P.g,mode:'lines',line:{color:'#33cc33',width:1.2,shape:'spline',smoothing:0.6}},base));
  traces.push(Object.assign({x:CURVE_X,y:P.m,mode:'lines',line:{color:'#f050f0',width:1.3,shape:'spline',smoothing:0.6}},base));
  traces.push(Object.assign({x:CURVE_X,y:P.b,mode:'lines',line:{color:'#4a4af5',width:1.3,shape:'spline',smoothing:0.6}},base));
  const err = P.e ? {type:'data',array:P.e,visible:true,color:'#000',thickness:1,width:0}
                  : {type:'constant',value:ERR_CONST[k],visible:true,color:'#000',thickness:1,width:0};
  traces.push(Object.assign({x:MASS_BINS,y:P.d,mode:'markers',marker:{color:'#000',size:4.5},error_y:err},base));
  traces.push(Object.assign({x:CURVE_X,y:P.r,mode:'lines',line:{color:'#ff3b3b',width:1.5,shape:'spline',smoothing:0.35}},base));

  const B=G.bx;
  layout.shapes.push({type:'rect',xref:'paper',yref:'paper',x0:PX(B[0]+1.5),x1:PX(B[2]+1.5),y0:PY(B[3]+1.5),y1:PY(B[1]+1.5),fillcolor:'#555',line:{width:0},layer:'above'});
  layout.shapes.push({type:'rect',xref:'paper',yref:'paper',x0:PX(B[0]),x1:PX(B[2]),y0:PY(B[3]),y1:PY(B[1]),fillcolor:'#fff',line:{color:'#333',width:0.8},layer:'above'});
  const rowH=(B[3]-B[1])/7;
  STAT_LABELS.forEach((lab,i)=>{
    const yy=PY(B[1]+(i+0.5)*rowH);
    layout.annotations.push({xref:'paper',yref:'paper',x:PX(B[0]+2.5),y:yy,xanchor:'left',yanchor:'middle',text:lab,showarrow:false,font:STATFONT});
    layout.annotations.push({xref:'paper',yref:'paper',x:PX(B[2]-2.5),y:yy,xanchor:'right',yanchor:'middle',text:P.s[i],showarrow:false,font:STATFONT});
  });
  layout.annotations.push({xref:'paper',yref:'paper',x:PX(G.n[0]),y:PY(G.n[1]),xanchor:'center',yanchor:'middle',text:PANEL_LABELS[k],showarrow:false,
    bgcolor:'#fff',borderpad:0,font:{family:'Lato, Open Sans, sans-serif',size:G.n[2],color:'#000'}});
  layout.annotations.push({xref:'paper',yref:'paper',x:PX(G.yt[0]),y:PY(G.yt[1]),xanchor:'center',yanchor:'middle',textangle:-90,text:Y_TITLE,showarrow:false,
    font:{family:'Liberation Sans, Arial',size:9.5,color:'#222'}});
  if(G.xt){
    const r=G.f[2];
    layout.annotations.push({xref:'paper',yref:'paper',x:PX(r),y:PY(G.xt),xanchor:'right',yanchor:'middle',text:X_TITLE_PARTS[2],showarrow:false,font:LABFONT});
    layout.annotations.push({xref:'paper',yref:'paper',x:PX(r-29),y:PY(G.xt+2.5),xanchor:'right',yanchor:'middle',text:X_TITLE_PARTS[1],showarrow:false,
      font:{family:'Liberation Sans, Arial',size:7,color:'#222'}});
    layout.annotations.push({xref:'paper',yref:'paper',x:PX(r-38),y:PY(G.xt),xanchor:'right',yanchor:'middle',text:X_TITLE_PARTS[0],showarrow:false,font:LABFONT});
  }
});

layout.shapes.push({type:'rect',xref:'paper',yref:'paper',x0:PX(5),x1:PX(1080),y0:PY(632),y1:PY(3),line:{color:'#7030a0',width:2},fillcolor:'rgba(0,0,0,0)',layer:'above'});
layout.shapes.push({type:'line',xref:'paper',yref:'paper',x0:PX(20),x1:PX(1062),y0:PY(49),y1:PY(49),line:{color:'#a6a6a6',width:3},layer:'above'});
layout.annotations.push({xref:'paper',yref:'paper',x:PX(53),y:PY(24),xanchor:'left',yanchor:'middle',text:SLIDE_TITLE,showarrow:false,
  font:{family:'Open Sans, sans-serif',size:35.5,color:'#000'}});

Plotly.newPlot('chart',traces,layout,{staticPlot:true,displayModeBar:false});
</script></body></html>
